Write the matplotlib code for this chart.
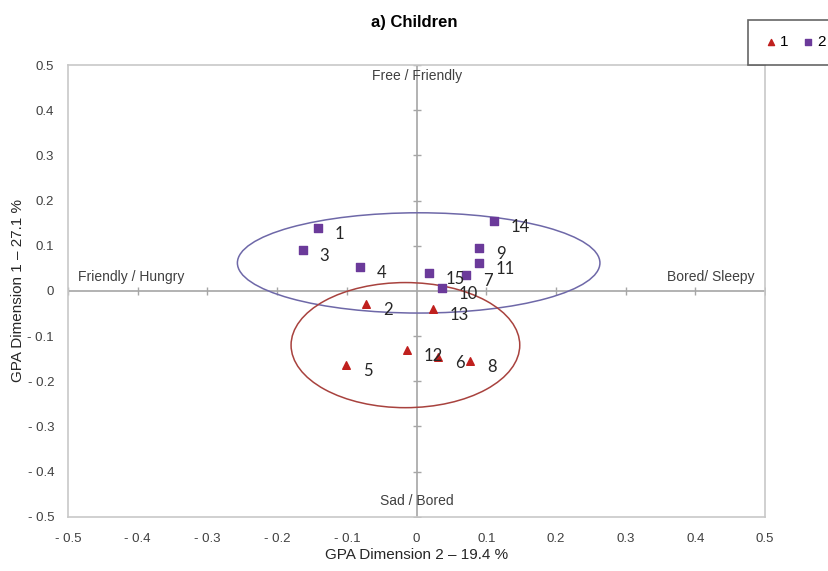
import numpy as np
import matplotlib.pyplot as plt
from matplotlib.patches import Ellipse

plt.rcParams['font.family'] = ['Liberation Sans', 'DejaVu Sans']

# group 1 (triangles)
ids1 = ['2', '13', '12', '6', '8', '5']
x1 = [-0.072, 0.024, -0.014, 0.031, 0.077, -0.101]
y1 = [-0.029, -0.040, -0.131, -0.146, -0.155, -0.164]

# group 2 (squares)
ids2 = ['1', '3', '4', '15', '7', '10', '9', '11', '14']
x2 = [-0.141, -0.163, -0.081, 0.018, 0.071, 0.037, 0.090, 0.090, 0.111]
y2 = [0.139, 0.091, 0.053, 0.040, 0.035, 0.007, 0.095, 0.062, 0.155]

ticks = [-0.5, -0.4, -0.3, -0.2, -0.1, 0, 0.1, 0.2, 0.3, 0.4, 0.5]
ticklabels = ['- 0.5', '- 0.4', '- 0.3', '- 0.2', '- 0.1', '0', '0.1', '0.2', '0.3', '0.4', '0.5']

red = '#c0201e'
purple = '#6b3a9a'
grey = '#a6a6a6'

fig = plt.figure(figsize=(8.29, 5.71), dpi=100)
ax = fig.add_axes([0.082, 0.095, 0.841, 0.791])

ax.set_xlim(-0.5, 0.5)
ax.set_ylim(-0.5, 0.5)
ax.set_xticks(ticks)
ax.set_xticklabels(ticklabels)
ax.set_yticks(ticks)
ax.set_yticklabels(ticklabels)
ax.tick_params(length=0, labelsize=9.5, colors='#404040')
ax.tick_params(axis='x', pad=12)
ax.tick_params(axis='y', pad=10)
for s in ax.spines.values():
    s.set_color('#c8c8c8')
    s.set_linewidth(1.2)

# central axes with tick marks
ax.axhline(0, color=grey, lw=1.2, zorder=1)
ax.axvline(0, color=grey, lw=1.2, zorder=1)
tk = [t for t in ticks if t != 0]
ax.plot(tk, [0] * len(tk), ls='none', marker='|', ms=6, color=grey, zorder=1)
ax.plot([0] * len(tk), tk, ls='none', marker='_', ms=6, color=grey, zorder=1)

# ellipses
ax.add_patch(Ellipse((0.003, 0.062), 0.52, 0.222, fill=False, ec='#6e68a8', lw=1.1, zorder=2))
ax.add_patch(Ellipse((-0.016, -0.12), 0.328, 0.277, fill=False, ec='#a8423e', lw=1.1, zorder=2))

ax.scatter(x1, y1, marker='^', s=30, color=red, zorder=3, label='1')
ax.scatter(x2, y2, marker='s', s=30, color=purple, zorder=3, label='2')

for i, xx, yy in zip(ids1, x1, y1):
    ax.annotate(i, (xx, yy), xytext=(12, -8), textcoords='offset points',
                fontsize=12, family=['Lato', 'DejaVu Sans'], color='#262626')
for i, xx, yy in zip(ids2, x2, y2):
    ax.annotate(i, (xx, yy), xytext=(12, -8), textcoords='offset points',
                fontsize=12, family=['Lato', 'DejaVu Sans'], color='#262626')

# quadrant labels
ax.text(0.0, 0.475, 'Free / Friendly', ha='center', va='center', fontsize=10, color='#404040')
ax.text(0.0, -0.465, 'Sad / Bored', ha='center', va='center', fontsize=10, color='#404040')
ax.text(-0.485, 0.03, 'Friendly / Hungry', ha='left', va='center', fontsize=10, color='#404040')
ax.text(0.485, 0.03, 'Bored/ Sleepy', ha='right', va='center', fontsize=10, color='#404040')

ax.set_xlabel('GPA Dimension 2 – 19.4 %', fontsize=11, color='#262626', labelpad=2)
ax.set_ylabel('GPA Dimension 1 – 27.1 %', fontsize=11, color='#262626', labelpad=2)

fig.text(0.5, 0.96, 'a) Children', ha='center', va='center', fontsize=12,
         fontweight='bold')

leg = fig.legend(loc='upper left', bbox_to_anchor=(0.893, 0.978), ncol=2, frameon=True,
                 fancybox=False, edgecolor='#404040', fontsize=11, handletextpad=0.1,
                 columnspacing=0.8, handlelength=1.0, borderpad=1.0, markerscale=0.8)
leg.get_frame().set_linewidth(1.2)

fig.savefig('out.png', dpi=100, facecolor='white')
